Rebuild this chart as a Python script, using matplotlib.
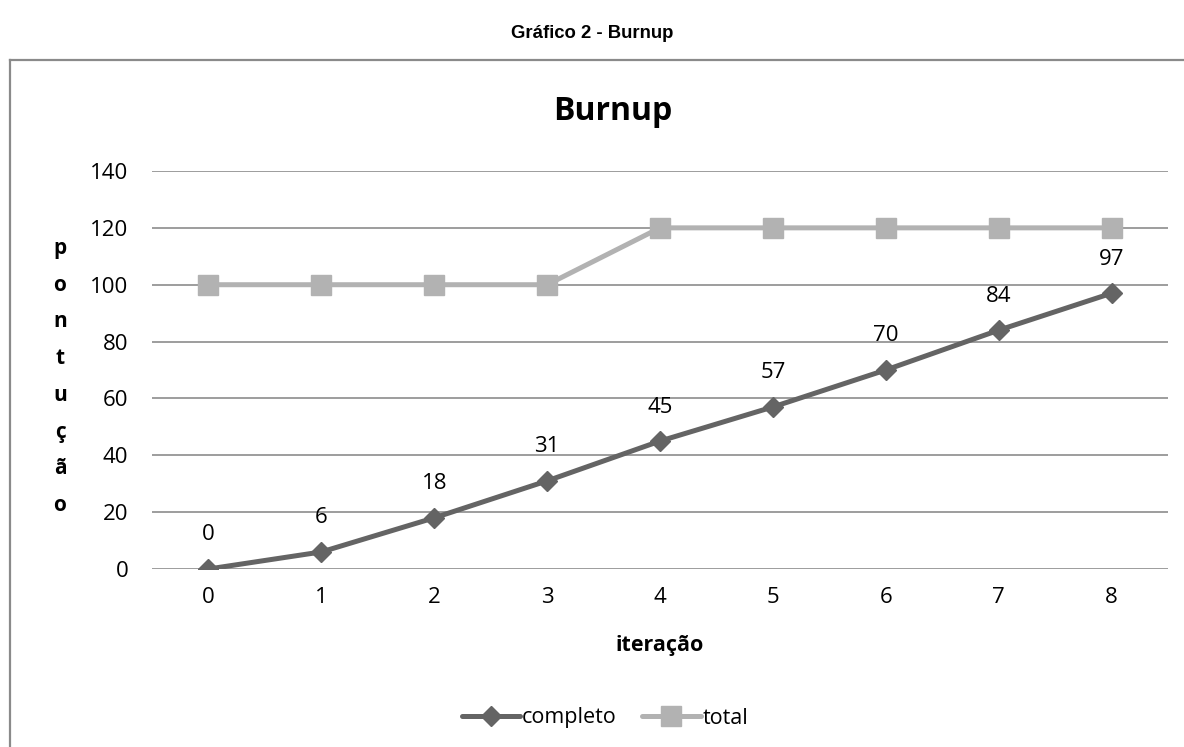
import matplotlib.pyplot as plt
from matplotlib.lines import Line2D

# data
iteracoes = [0, 1, 2, 3, 4, 5, 6, 7, 8]
completo = [0, 6, 18, 31, 45, 57, 70, 84, 97]
total = [100, 100, 100, 100, 120, 120, 120, 120, 120]
y_ticks = [0, 20, 40, 60, 80, 100, 120, 140]

body_font = "Open Sans"
c_completo = "#646464"
c_total = "#b2b2b2"
c_grid = "#8c8c8c"

W, H = 1184, 747
fig = plt.figure(figsize=(W / 100, H / 100), dpi=100)

# outer caption and chart frame (frame runs off the right/bottom edge)
fig.text(592 / W, 1 - 33 / H, "Gráfico 2 - Burnup", ha="center", va="center",
         fontsize=13.3, fontweight="bold", family="Liberation Sans")
fig.add_artist(Line2D([10 / W, 10 / W], [-0.01, 1 - 59.5 / H], transform=fig.transFigure,
                      color="#8a8a8a", lw=1.6))
fig.add_artist(Line2D([10 / W, 1.01], [1 - 59.5 / H, 1 - 59.5 / H], transform=fig.transFigure,
                      color="#8a8a8a", lw=1.6))

ax = fig.add_axes([152 / W, 1 - 569 / H, (1168 - 152) / W, (569 - 171) / H])
ax.set_xlim(-0.5, 8.5)
ax.set_ylim(0, 140)

for y in y_ticks:
    ax.axhline(y, color=c_grid, lw=1.2, zorder=1)

ax.plot(iteracoes, total, color=c_total, lw=3.6, marker="s", markersize=14,
        zorder=3, label="total", solid_capstyle="round")
ax.plot(iteracoes, completo, color=c_completo, lw=3.6, marker="D", markersize=10,
        zorder=4, label="completo", solid_capstyle="round")

for x, v in zip(iteracoes, completo):
    ax.annotate(str(v), (x, v), xytext=(0, 24.5), textcoords="offset points",
                ha="center", va="center", fontsize=16, family=body_font)

for s in ax.spines.values():
    s.set_visible(False)
ax.set_xticks(iteracoes)
ax.set_yticks(y_ticks)
ax.tick_params(length=0, labelsize=16)
ax.tick_params(axis="x", pad=13)
ax.tick_params(axis="y", pad=17)
for lab in ax.get_xticklabels() + ax.get_yticklabels():
    lab.set_family(body_font)

fig.text(613 / W, 1 - 111 / H, "Burnup", ha="center", va="center",
         fontsize=23, fontweight="bold", family=body_font)
fig.text(660 / W, 1 - 646 / H, "iteração", ha="center", va="center",
         fontsize=15.5, fontweight="bold", family=body_font)
fig.text(60 / W, 1 - 377 / H, "\n".join("pontução"), ha="center", va="center",
         fontsize=15, fontweight="bold", family=body_font, linespacing=1.98)

handles, labels = ax.get_legend_handles_labels()
fig.legend(handles[::-1], labels[::-1], loc="center", bbox_to_anchor=(605 / W, 1 - 718 / H),
           ncol=2, frameon=False, prop={"family": body_font, "size": 15.5},
           handlelength=2.7, handletextpad=0.1, columnspacing=1.2)

fig.savefig("out.png", dpi=100)
